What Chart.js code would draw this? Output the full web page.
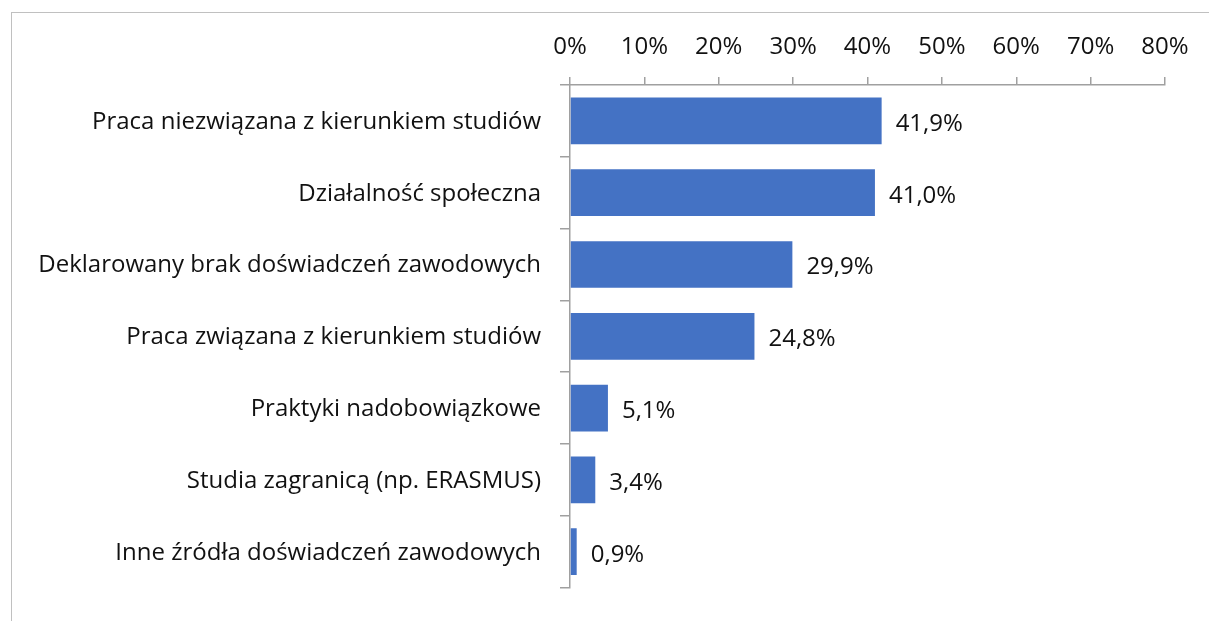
<!DOCTYPE html>
<html>
<head>
<meta charset="utf-8">
<script src="https://cdn.jsdelivr.net/npm/chart.js@4"></script>
<style>
  html, body { margin:0; padding:0; background:#fff; }
  #wrap { position:relative; width:1209px; height:621px; }
  #frame { position:absolute; left:11px; top:12px; right:0; bottom:0; border-top:1.5px solid #c0c0c0; border-left:1.5px solid #c0c0c0; }
  canvas { position:absolute; left:0; top:0; }
</style>
</head>
<body>
<div id="wrap">
  <div id="frame"></div>
  <canvas id="chart" width="1209" height="621"></canvas>
</div>
<script>
// categories and values (%)
const categories = [
  'Praca niezwiązana z kierunkiem studiów',
  'Działalność społeczna',
  'Deklarowany brak doświadczeń zawodowych',
  'Praca związana z kierunkiem studiów',
  'Praktyki nadobowiązkowe',
  'Studia zagranicą (np. ERASMUS)',
  'Inne źródła doświadczeń zawodowych'
]
const values = [41.9, 41.0, 29.9, 24.8, 5.1, 3.4, 0.9]
const xTicks = [0, 10, 20, 30, 40, 50, 60, 70, 80]

const FONT = "'Open Sans', 'Noto Sans', sans-serif"
const FONT_SIZE = 24
const axisColor = '#a0a0a0'

// simple value labels after the bar end
const barLabels = {
  id: 'barLabels',
  afterDatasetsDraw(chart){
    const ctx = chart.ctx
    const meta = chart.getDatasetMeta(0)
    ctx.save()
    ctx.font = FONT_SIZE + 'px ' + FONT
    ctx.fillStyle = '#111'
    ctx.textAlign = 'left'
    ctx.textBaseline = 'middle'
    meta.data.forEach((bar, i)=>{
      const txt = values[i].toFixed(1).replace('.', ',') + '%'
      ctx.fillText(txt, bar.x + 14, bar.y + 3)
    })
    ctx.restore()
  }
}

new Chart(document.getElementById('chart').getContext('2d'), {
  type: 'bar',
  data: {
    labels: categories,
    datasets: [{
      data: values,
      backgroundColor: '#4472C4',
      barPercentage: 0.65,
      categoryPercentage: 1
    }]
  },
  options: {
    indexAxis: 'y',
    responsive: false,
    animation: false,
    layout: { padding: { left: 0, top: 0, right: 44, bottom: 20 } },
    plugins: { legend: { display: false }, tooltip: { enabled: false } },
    scales: {
      x: {
        position: 'top',
        min: 0, max: 80,
        afterBuildTicks: s => { s.ticks = xTicks.map(v => ({ value: v })) },
        afterFit: s => { s.height = 85 },
        grid: { drawOnChartArea: false, tickLength: 8, color: axisColor, lineWidth: 1.5 },
        border: { color: axisColor, width: 1.5 },
        ticks: {
          color: '#111', padding: 15, maxRotation: 0,
          font: { family: FONT, size: FONT_SIZE },
          callback: v => v + '%'
        }
      },
      y: {
        afterFit: s => { s.width = 570 },
        grid: { drawOnChartArea: false, offset: true, tickLength: 10, color: axisColor, lineWidth: 1.5 },
        border: { color: axisColor, width: 1.5 },
        ticks: {
          color: '#111', padding: 19, labelOffset: 1,
          font: { family: FONT, size: FONT_SIZE }
        }
      }
    }
  },
  plugins: [barLabels]
})
</script>
</body>
</html>
